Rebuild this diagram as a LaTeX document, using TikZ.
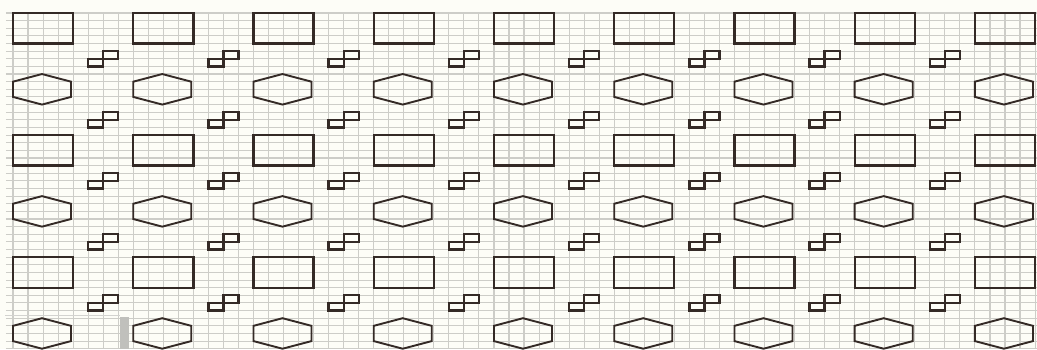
\documentclass[tikz,border=0pt]{standalone}
\usepackage{tikz}
\usetikzlibrary{calc}
\definecolor{cInk}{RGB}{52,42,38}
\definecolor{cGrid}{RGB}{205,205,200}
\definecolor{cPaper}{RGB}{253,253,247}
\definecolor{cBar}{RGB}{192,192,188}
\tikzset{
	gridln/.style={draw=cGrid, line width=1.1pt},
	% motif shapes
	tile/.style ={draw=cInk, line width=2.3pt},
	hexa/.style ={draw=cInk, line width=1.9pt, line join=miter},
	twin/.style ={draw=cInk, line width=2.3pt},
	% scanning marks
	edge/.style ={draw=cBar!70, line width=0.8pt},
	bar/.style  ={fill=cBar},
}
\begin{document}
\begin{tikzpicture}[x=15.03pt, y=-7.63pt]
	\fill[cPaper] (-0.865,-1.704) rectangle (68.13,44.04);
	\useasboundingbox (-0.865,-1.704) rectangle (68.13,44.04);
	% squared paper
	\foreach \i in {0,...,68} \draw[gridln] (\i,0) -- (\i,44.04);
	\foreach \j in {0,...,44} \draw[gridln] (-0.47,\j) -- (68.13,\j);
	% rectangles and hexagons
	\foreach \c in {0,...,8} {
		\foreach \r in {0,1,2} {
			\draw[tile] ({8*\c},{16*\r}) rectangle ++(4,4);
			\draw[hexa] ({8*\c+1.93},{16*\r+8}) -- ++(1.93,1) -- ++(0,2) -- ++(-1.93,1) -- ++(-1.93,-1) -- ++(0,-2) -- cycle;
		}
	}
	% small linked squares
	\foreach \c in {0,...,7} {
		\foreach \k in {0,...,4} {
			\draw[twin] ({8*\c+5},{8*\k+6}) rectangle ++(1,1);
			\draw[twin] ({8*\c+6},{8*\k+5}) rectangle ++(1,1);
		}
	}
	\draw[edge] (-0.53,39.58) -- (7.12,39.58);
	\fill[bar] (7.12,39.84) rectangle (7.72,44.04);
\end{tikzpicture}
\end{document}
